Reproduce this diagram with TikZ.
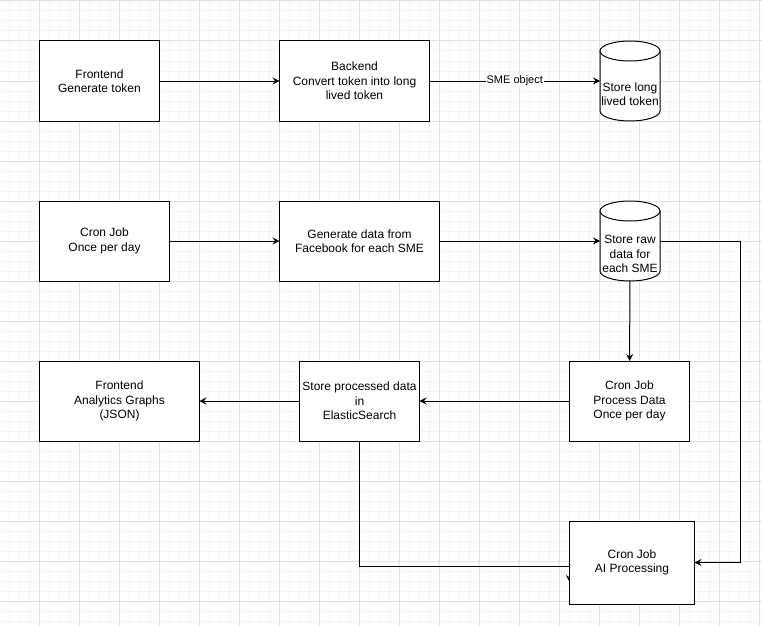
\documentclass[tikz,border=0pt]{standalone}
\usepackage{fontspec}
\setmainfont{Liberation Sans}
\usetikzlibrary{arrows.meta}
\pgfdeclarelayer{gridlayer}
\pgfdeclarelayer{edgelayer}
\pgfsetlayers{gridlayer,edgelayer,main}
\definecolor{gridminor}{RGB}{245,245,245}
\definecolor{gridmajor}{RGB}{224,224,224}
\tikzset{
  box/.style={draw, fill=white, line width=1pt, inner sep=0pt, outer sep=0pt,
    align=center, font=\fontsize{12}{14.5}\selectfont},
  cylnode/.style={inner sep=0pt, outer sep=0pt, minimum width=60pt, minimum height=80pt},
  cyltext/.style={align=center, font=\fontsize{12}{14.5}\selectfont, inner sep=0pt},
  conn/.style={line width=1pt, -{Stealth[length=7pt,width=7pt,inset=2.5pt]}},
  lbl/.style={fill=white, inner sep=1pt, font=\fontsize{11}{13}\selectfont},
}
\begin{document}
\begin{tikzpicture}[x=1pt,y=-1pt]
\useasboundingbox (0,0) rectangle (762,626);
\begin{pgfonlayer}{gridlayer}
  \fill[white] (0,0) rectangle (762,626);
  \foreach \x in {-0.5,9.5,...,765} \draw[gridminor,line width=1pt] (\x,0) -- (\x,626);
  \foreach \y in {1,11,...,630} \draw[gridminor,line width=1pt] (0,\y) -- (762,\y);
  \foreach \x in {-0.5,39.5,...,765} \draw[gridmajor,line width=1pt] (\x,0) -- (\x,626);
  \foreach \y in {1,41,...,630} \draw[gridmajor,line width=1pt] (0,\y) -- (762,\y);
\end{pgfonlayer}

% row 1
\node[box, minimum width=120pt, minimum height=80pt] (fe) at (99.5,81) {Frontend\\Generate token};
\node[box, minimum width=150pt, minimum height=80pt] (be) at (354.5,81) {Backend\\Convert token into long\\lived token};
\node[cylnode] (lt) at (630,81) {};
% row 2
\node[box, minimum width=130pt, minimum height=80pt] (cj) at (104.5,241) {Cron Job\\Once per day};
\node[box, minimum width=160pt, minimum height=80pt] (gd) at (359.5,241) {Generate data from\\Facebook for each SME};
\node[cylnode] (raw) at (630,241) {};
% row 3
\node[box, minimum width=160pt, minimum height=80pt] (fa) at (119.5,401) {Frontend\\Analytics Graphs\\(JSON)};
\node[box, minimum width=120pt, minimum height=80pt] (es) at (359.5,401) {Store processed data\\in\\ElasticSearch};
\node[box, minimum width=120pt, minimum height=80pt] (pd) at (629.5,401) {Cron Job\\Process Data\\Once per day};
% row 4
\node[box, minimum width=125pt, minimum height=83pt] (ai) at (632,562.5) {Cron Job\\AI Processing};

% cylinders
\foreach \c in {lt,raw}{
  \filldraw[fill=white, line width=1pt]
    ([yshift=-10pt]\c.north west) -- ([yshift=10pt]\c.south west)
    arc[start angle=180, end angle=360, x radius=30pt, y radius=10pt]
    -- ([yshift=-10pt]\c.north east);
  \draw[line width=1pt, fill=white] ([yshift=-10pt]\c.north) ellipse[x radius=30pt, y radius=10pt];
}
\node[cyltext] (ltt) at (630,94) {Store long\\lived token};
\node[cyltext] (rawt) at (630,254) {Store raw\\data for\\each SME};

\begin{pgfonlayer}{edgelayer}
  \draw[conn] (fe) -- (be);
  \draw[conn] (be) -- node[lbl] {SME object} (lt);
  \draw[conn] (cj) -- (gd);
  \draw[conn] (gd) -- (raw);
  \draw[conn] (raw) -- (pd);
  \draw[conn] (pd) -- (es);
  \draw[conn] (es) -- (fa);
  \draw[conn] (raw.east) -- ++(80,0) |- (ai.east);
  \draw[conn] (es.south) |- ([yshift=-3.5pt]ai.west) -- ++(0,16);
\end{pgfonlayer}
\end{tikzpicture}
\end{document}
